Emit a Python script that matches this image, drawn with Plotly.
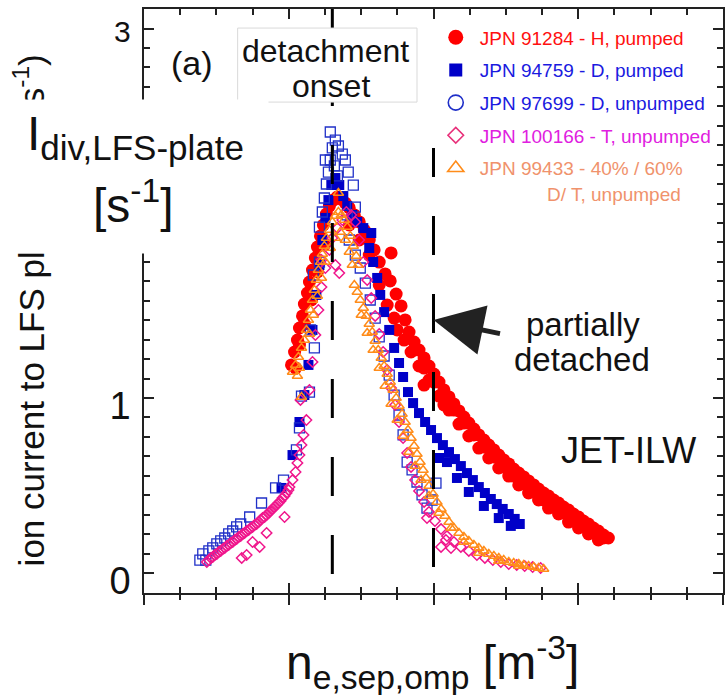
import plotly.graph_objects as go

FONT = "Liberation Sans, Arial, Helvetica, sans-serif"

# ---------------- data (n_e,sep,omp in 1e19 m^-3 ; ion current) ----------------
H_PUMPED = [  # JPN 91284
    (2.019, 1.189), (2.040, 1.263), (2.060, 1.331), (2.074, 1.400), (2.095, 1.469), (2.108, 1.537),
    (2.129, 1.600), (2.143, 1.663), (2.164, 1.731), (2.184, 1.800), (2.198, 1.863), (2.219, 1.926),
    (2.239, 1.989), (2.260, 2.051), (2.281, 2.097), (2.308, 2.131), (2.336, 2.149), (2.363, 2.137),
    (2.391, 2.114), (2.418, 2.086), (2.453, 2.046), (2.487, 2.006), (2.522, 1.960), (2.556, 1.903),
    (2.590, 1.846), (2.625, 1.777), (2.666, 1.709), (2.707, 1.829), (2.701, 1.669), (2.742, 1.594),
    (2.776, 1.526), (2.804, 1.446), (2.749, 1.389), (2.831, 1.377), (2.866, 1.320), (2.900, 1.274),
    (2.935, 1.229), (2.969, 1.183), (3.003, 1.137), (3.038, 1.091), (3.072, 1.046), (3.107, 1.006),
    (3.141, 0.966), (3.176, 0.926), (3.210, 0.891), (3.244, 0.857), (3.279, 0.823), (3.313, 0.789),
    (3.348, 0.760), (3.382, 0.731), (3.417, 0.703), (3.451, 0.674), (3.485, 0.646), (3.520, 0.623),
    (3.554, 0.594), (3.589, 0.571), (3.623, 0.549), (3.657, 0.526), (3.692, 0.503), (3.726, 0.480),
    (3.761, 0.457), (3.795, 0.440), (3.830, 0.417), (3.864, 0.400), (3.898, 0.377), (3.933, 0.360),
    (3.967, 0.337), (4.002, 0.320), (4.036, 0.297), (4.071, 0.280), (4.105, 0.257), (4.139, 0.240),
    (4.174, 0.217), (4.208, 0.200),
    (2.900, 1.183), (2.969, 1.103), (3.038, 1.011), (3.107, 0.931), (3.176, 0.851), (3.244, 0.783),
    (3.313, 0.714), (3.382, 0.657), (3.451, 0.600), (3.520, 0.554), (3.589, 0.503), (3.657, 0.457),
    (3.726, 0.417), (3.795, 0.371), (3.864, 0.337), (3.933, 0.291), (4.002, 0.257), (4.071, 0.223),
    (4.139, 0.189), (2.935, 1.074), (3.072, 0.960), (2.074, 1.303), (2.047, 1.171), (2.108, 1.423),
    (2.157, 1.560), (2.198, 1.720), (2.246, 1.874), (2.418, 1.989), (2.487, 1.903), (2.556, 1.817),
    (2.625, 1.646), (2.680, 1.531), (2.728, 1.457), (2.797, 1.331), (2.845, 1.263),
    (2.935, 1.171), (3.003, 1.091), (3.072, 1.006), (3.141, 0.931), (3.210, 0.857), (3.279, 0.789),
    (3.348, 0.720), (3.417, 0.663), (3.485, 0.606), (3.554, 0.554), (3.623, 0.509), (3.692, 0.463),
    (3.761, 0.417), (3.830, 0.377), (3.898, 0.343), (3.967, 0.309), (4.036, 0.269), (4.105, 0.234),
    (4.174, 0.200),
]

D_PUMPED = [  # JPN 94759
    (1.950, 0.486), (2.026, 0.674), (2.074, 0.863), (2.108, 1.017), (2.136, 1.189), (2.164, 1.389),
    (2.191, 1.589), (2.212, 1.760), (2.232, 1.903), (2.253, 2.029), (2.274, 2.131), (2.294, 2.217),
    (2.322, 2.257), (2.349, 2.217), (2.377, 2.154), (2.404, 2.097), (2.439, 2.046), (2.473, 2.006),
    (2.515, 1.971), (2.570, 1.943), (2.556, 1.857), (2.583, 1.777), (2.611, 1.686), (2.632, 1.589),
    (2.659, 1.491), (2.694, 1.389), (2.728, 1.286), (2.762, 1.200), (2.790, 1.120), (2.824, 1.034),
    (2.859, 0.971), (2.900, 0.914), (2.942, 0.863), (2.983, 0.817), (3.024, 0.771), (3.065, 0.731),
    (3.107, 0.691), (3.148, 0.651), (3.189, 0.611), (3.231, 0.571), (3.272, 0.531), (3.313, 0.491),
    (3.355, 0.457), (3.396, 0.423), (3.437, 0.394), (3.478, 0.366), (3.520, 0.337), (3.561, 0.309),
    (3.596, 0.280), (3.038, 0.657), (3.093, 0.634), (3.162, 0.543), (3.244, 0.463), (3.348, 0.383),
    (3.451, 0.314), (3.534, 0.269),
]

D_UNPUMPED = [  # JPN 97699
    (1.386, 0.074), (1.406, 0.109), (1.427, 0.074), (1.448, 0.126), (1.475, 0.143), (1.503, 0.166),
    (1.530, 0.183), (1.558, 0.200), (1.585, 0.223), (1.613, 0.240), (1.640, 0.263), (1.668, 0.280),
    (1.730, 0.320), (1.812, 0.400), (1.909, 0.486), (1.964, 0.531), (2.053, 0.703), (2.074, 0.829),
    (2.088, 1.011), (2.143, 1.034), (2.177, 1.286), (2.150, 1.389), (2.170, 1.703), (2.212, 1.777),
    (2.212, 1.977), (2.232, 2.063), (2.246, 2.143), (2.260, 2.223), (2.274, 2.291), (2.287, 2.360),
    (2.301, 2.429), (2.287, 2.520), (2.322, 2.474), (2.343, 2.440), (2.370, 2.394), (2.391, 2.360),
    (2.411, 2.291), (2.446, 2.217), (2.460, 2.091), (2.404, 2.046), (2.315, 2.326), (2.336, 2.269),
    (2.253, 2.360), (2.418, 1.903), (2.460, 1.817), (2.494, 1.743), (2.529, 1.657), (2.563, 1.560),
    (2.597, 1.457), (2.625, 1.349), (2.659, 1.240), (2.694, 1.131), (2.728, 1.017), (2.762, 0.903),
    (2.790, 0.789), (2.818, 0.634), (2.852, 0.589), (2.886, 0.520), (2.955, 0.371), (3.017, 0.514),
    (2.990, 0.417), (2.921, 0.446),
]

T_UNPUMPED = [  # JPN 100166
    (1.434, 0.063), (1.462, 0.086), (1.489, 0.103), (1.516, 0.120), (1.544, 0.137), (1.571, 0.154),
    (1.599, 0.171), (1.627, 0.189), (1.654, 0.206), (1.682, 0.223), (1.709, 0.240), (1.737, 0.257),
    (1.764, 0.274), (1.792, 0.291), (1.819, 0.314), (1.847, 0.331), (1.874, 0.354), (1.902, 0.377),
    (1.929, 0.400), (1.957, 0.429), (1.985, 0.457), (2.005, 0.491), (2.026, 0.531), (2.047, 0.577),
    (2.060, 0.629), (2.074, 0.674), (2.088, 0.731), (2.102, 0.789), (2.081, 0.989),
    (1.448, 0.074), (1.475, 0.091), (1.503, 0.109), (1.530, 0.126), (1.558, 0.143), (1.585, 0.160),
    (1.613, 0.177), (1.640, 0.194), (1.668, 0.211), (1.695, 0.229), (1.723, 0.246), (1.750, 0.263),
    (1.778, 0.280), (1.805, 0.303), (1.833, 0.320), (1.861, 0.343), (1.888, 0.366), (1.916, 0.389),
    (1.943, 0.411), (1.971, 0.440), (1.998, 0.474),
    (1.675, 0.086), (1.709, 0.103), (1.750, 0.177), (1.799, 0.149), (1.847, 0.229), (1.971, 0.320),
    (2.122, 0.874), (2.143, 1.046), (2.164, 1.206), (2.184, 1.360), (2.205, 1.503), (2.226, 1.634),
    (2.253, 1.743), (2.281, 1.846), (2.226, 1.789), (2.301, 1.914), (2.336, 1.971), (2.370, 2.017),
    (2.398, 2.063), (2.432, 2.046), (2.460, 2.006), (2.487, 1.903), (2.349, 1.714), (2.322, 1.760),
    (2.515, 1.777), (2.542, 1.674), (2.570, 1.571), (2.597, 1.469), (2.625, 1.366), (2.652, 1.263),
    (2.680, 1.160), (2.707, 1.057), (2.735, 0.960), (2.762, 0.863), (2.790, 0.771), (2.818, 0.686),
    (2.845, 0.606), (2.873, 0.531), (2.900, 0.469), (2.935, 0.406), (2.969, 0.349), (3.010, 0.297),
    (3.052, 0.251), (3.093, 0.211), (3.141, 0.177), (3.189, 0.149), (3.244, 0.126), (3.300, 0.103),
    (3.355, 0.086), (3.410, 0.074), (3.465, 0.063), (3.520, 0.051), (3.575, 0.046), (3.630, 0.040),
    (3.685, 0.034), (3.740, 0.029), (2.955, 0.314), (3.052, 0.149), (3.121, 0.143), (3.086, 0.189),
]

DT_UNPUMPED = [  # JPN 99433
    (2.026, 1.149), (2.047, 1.189), (2.067, 1.234), (2.088, 1.286), (2.088, 1.006), (2.108, 1.331),
    (2.122, 1.389), (2.136, 1.446), (2.150, 1.503), (2.164, 1.560), (2.177, 1.617), (2.191, 1.674),
    (2.205, 1.731), (2.219, 1.777), (2.232, 1.823), (2.246, 1.869), (2.260, 1.914), (2.281, 1.960),
    (2.301, 2.006), (2.322, 2.040), (2.343, 2.063), (2.343, 2.171), (2.363, 2.046), (2.384, 2.017),
    (2.404, 1.977), (2.425, 1.926), (2.446, 1.869), (2.466, 1.811), (2.480, 1.760),
    (2.143, 1.366), (2.170, 1.474), (2.198, 1.583), (2.226, 1.686), (2.253, 1.777), (2.287, 1.857),
    (2.322, 1.914), (2.356, 1.949), (2.391, 1.903), (2.418, 1.834), (2.439, 1.760), (2.060, 1.126),
    (2.074, 1.171),
    (2.453, 1.646), (2.473, 1.606), (2.494, 1.560), (2.515, 1.514), (2.535, 1.469), (2.556, 1.423),
    (2.577, 1.377), (2.597, 1.326), (2.618, 1.274), (2.639, 1.229), (2.659, 1.183), (2.680, 1.137),
    (2.701, 1.091), (2.721, 1.046), (2.742, 1.000), (2.762, 0.954), (2.783, 0.909), (2.804, 0.863),
    (2.824, 0.817), (2.845, 0.771), (2.866, 0.726), (2.886, 0.680), (2.907, 0.634), (2.928, 0.589),
    (2.948, 0.543), (2.969, 0.497), (2.997, 0.451), (3.024, 0.406), (3.052, 0.366), (3.079, 0.326),
    (3.107, 0.291), (3.141, 0.257), (3.176, 0.229), (3.210, 0.206), (3.244, 0.183), (3.279, 0.160),
    (3.313, 0.143), (3.348, 0.126), (3.382, 0.109), (3.417, 0.097), (3.451, 0.086), (3.485, 0.074),
    (3.520, 0.063), (3.554, 0.057), (3.589, 0.051), (3.623, 0.046), (3.657, 0.040), (3.692, 0.034),
    (3.726, 0.029), (3.761, 0.023),
    (2.501, 1.474), (2.542, 1.371), (2.583, 1.274), (2.625, 1.171), (2.666, 1.069), (2.707, 0.966),
    (2.749, 0.874), (2.790, 0.783), (2.831, 0.691), (2.873, 0.611), (2.914, 0.531), (2.969, 0.440),
    (3.038, 0.343), (3.121, 0.257), (3.210, 0.177), (3.313, 0.114), (3.451, 0.069), (3.589, 0.040),
]

LEGEND_NAMES = ["JPN 91284 - H, pumped", "JPN 94759 - D, pumped", "JPN 97699 - D, unpumped",
                "JPN 100166 - T, unpumped", "JPN 99433 - 40% / 60%"]
LEGEND_TEXT_COLORS = ["#ff1010", "#1a1ae0", "#1a1ae0", "#e020e0", "#f0926c"]

X_RANGE = [1.0, 5.0]
Y_RANGE = [-0.1143, 3.2229]
Y_TICKVALS = [0, 1, 28 / 9]
Y_TICKTEXT = ["0", "1", ""]      # the "3" label is drawn separately (smaller, offset)
TOP_TICK_LABEL = "3"
ONSET_X = 2.301
PARTIAL_X = 3.0

# ---------------- figure ----------------
fig = go.Figure()

def add(data, symbol, size, color, filled, lw=1.5):
    xs = [p[0] for p in data]
    ys = [p[1] for p in data]
    if filled:
        marker = dict(symbol=symbol, size=size, color=color, line=dict(width=0))
    else:
        marker = dict(symbol=symbol, size=size, color=color, line=dict(width=lw, color=color))
    fig.add_trace(go.Scatter(x=xs, y=ys, mode="markers", marker=marker,
                             showlegend=False, hoverinfo="skip"))

add(H_PUMPED, "circle", 13, "#ff0000", True)
add(D_PUMPED, "square", 10, "#0000c8", True)
add(D_UNPUMPED, "square-open", 10, "#2030c8", False, 1.3)
add(T_UNPUMPED, "diamond-open", 8, "#f0168c", False, 1.5)
add(DT_UNPUMPED, "triangle-up-open", 9, "#ff8c1a", False, 1.5)

# legend-only entries
leg_markers = [
    dict(symbol="circle", size=15, color="#ff0000"),
    dict(symbol="square", size=13, color="#0000c8"),
    dict(symbol="circle-open", size=15, color="#2030c8", line=dict(width=1.6, color="#2030c8")),
    dict(symbol="diamond-open", size=12, color="#e8307a", line=dict(width=1.6, color="#e8307a")),
    dict(symbol="triangle-up-open", size=14, color="#ff8c1a", line=dict(width=1.6, color="#ff8c1a")),
]
for i, (nm, col, mk) in enumerate(zip(LEGEND_NAMES, LEGEND_TEXT_COLORS, leg_markers)):
    fig.add_trace(go.Scatter(x=[None], y=[None], mode="markers", marker=mk,
                             name=f"<span style='color:{col}'>{nm}</span>",
                             legendgroup=f"g{i}", showlegend=True))

# dummy trace for overlay x axis (inside ticks)
fig.add_trace(go.Scatter(x=[None], y=[None], xaxis="x2", showlegend=False, hoverinfo="skip"))

axis_col = "#222222"
fig.update_layout(
    width=726, height=695,
    margin=dict(l=144, r=1, t=9, b=102),
    paper_bgcolor="white", plot_bgcolor="white",
    font=dict(family=FONT, color="#111111"),
    xaxis=dict(range=X_RANGE, showgrid=False, zeroline=False, showline=True, linecolor=axis_col,
               linewidth=1.6, mirror=True, ticks="outside", ticklen=10, tickwidth=1.5,
               tickcolor=axis_col, dtick=1, tick0=1, showticklabels=False,
               minor=dict(dtick=0.25, tick0=1, ticks="outside", ticklen=5, tickwidth=1.5,
                          tickcolor=axis_col, showgrid=False)),
    xaxis2=dict(range=X_RANGE, overlaying="x", anchor="y", side="bottom", showgrid=False,
                zeroline=False, showline=True, linecolor=axis_col, linewidth=1.6, mirror="ticks",
                ticks="inside", ticklen=10, tickwidth=1.5, tickcolor=axis_col, dtick=1, tick0=1,
                showticklabels=False,
                minor=dict(dtick=0.25, tick0=1, ticks="inside", ticklen=6, tickwidth=1.5,
                           tickcolor=axis_col, showgrid=False)),
    yaxis=dict(range=Y_RANGE, showgrid=False, zeroline=False, showline=True, linecolor=axis_col,
               linewidth=1.6, mirror="ticks", ticks="inside", ticklen=10, tickwidth=1.5,
               tickcolor=axis_col, tickmode="array", tickvals=Y_TICKVALS, ticktext=Y_TICKTEXT,
               tickfont=dict(size=38, family=FONT, color="#111111"),
               ticklabelstandoff=4, ticklabelshift=8,
               minor=dict(dtick=1 / 9, tick0=0, ticks="inside", ticklen=6, tickwidth=1.5,
                          tickcolor=axis_col, showgrid=False)),
    legend=dict(x=0.497, y=0.984, xanchor="left", yanchor="top", bgcolor="rgba(0,0,0,0)",
                font=dict(family=FONT, size=19), traceorder="grouped", tracegroupgap=5,
                itemsizing="trace", itemwidth=38),
)

# dashed marker lines
fig.add_shape(type="line", x0=ONSET_X, x1=ONSET_X, y0=-0.006, y1=Y_RANGE[1], xref="x", yref="y",
              line=dict(color="black", width=3, dash="39px,39px"), layer="above")
fig.add_shape(type="line", x0=PARTIAL_X, x1=PARTIAL_X, y0=0.034, y1=2.429, xref="x", yref="y",
              line=dict(color="black", width=3, dash="39px,39px"), layer="above")
# "detachment onset" box
fig.add_shape(type="rect", x0=1.647, x1=2.886, y0=2.691, y1=3.114, xref="x", yref="y",
              fillcolor="white", line=dict(color="#d9d9d9", width=1), layer="above")

def px_x(px):
    return (px - 144) / 581.0

def px_y(py):
    return (593 - py) / 584.0

def label(text, cx, cy, size, color="#111111", **kw):
    d = dict(text=text, x=px_x(cx), y=px_y(cy), xref="paper", yref="paper", showarrow=False,
             xanchor="center", yanchor="middle", font=dict(size=size, family=FONT, color=color))
    d.update(kw)
    return d

anns = []
# original y-axis title, partly hidden
anns.append(label("ion current to LFS plate (10<sup>20</sup> s<sup>-1</sup>)", 29, 310, 35,
                  textangle=-90))
# white box covering part of it
anns.append(label("&nbsp;", 134, 176.5, 10, width=268, height=153, bgcolor="white", borderpad=0))
anns.append(label("I<sub><span style='font-size:35px'>div,LFS-plate</span></sub>", 135, 137, 48))
anns.append(label("[s<sup>-1</sup>]", 133, 202, 48))
anns.append(label(TOP_TICK_LABEL, 122, 31, 30))
anns.append(label("(a)", 192, 63, 34))
anns.append(label("detachment", 326, 51, 32))
anns.append(label("onset", 332, 86, 32))
anns.append(label("D/ T, unpumped", 616, 194, 19, color="#f0926c"))
anns.append(label("partially", 585, 324, 33))
anns.append(label("detached", 584, 359, 33))
anns.append(label("JET-ILW", 630, 450, 36))
anns.append(label("n<sub>e,sep,omp</sub> [m<sup>-3</sup>]", 433, 662, 48))
anns.append(dict(text="", x=PARTIAL_X, y=1.446, xref="x", yref="y", showarrow=True,
                 ax=68, ay=14, axref="pixel", ayref="pixel", arrowhead=2, arrowsize=2.0,
                 arrowwidth=5, arrowcolor="#222222", standoff=0))
fig.update_layout(annotations=anns)

fig.write_html("out.html")
